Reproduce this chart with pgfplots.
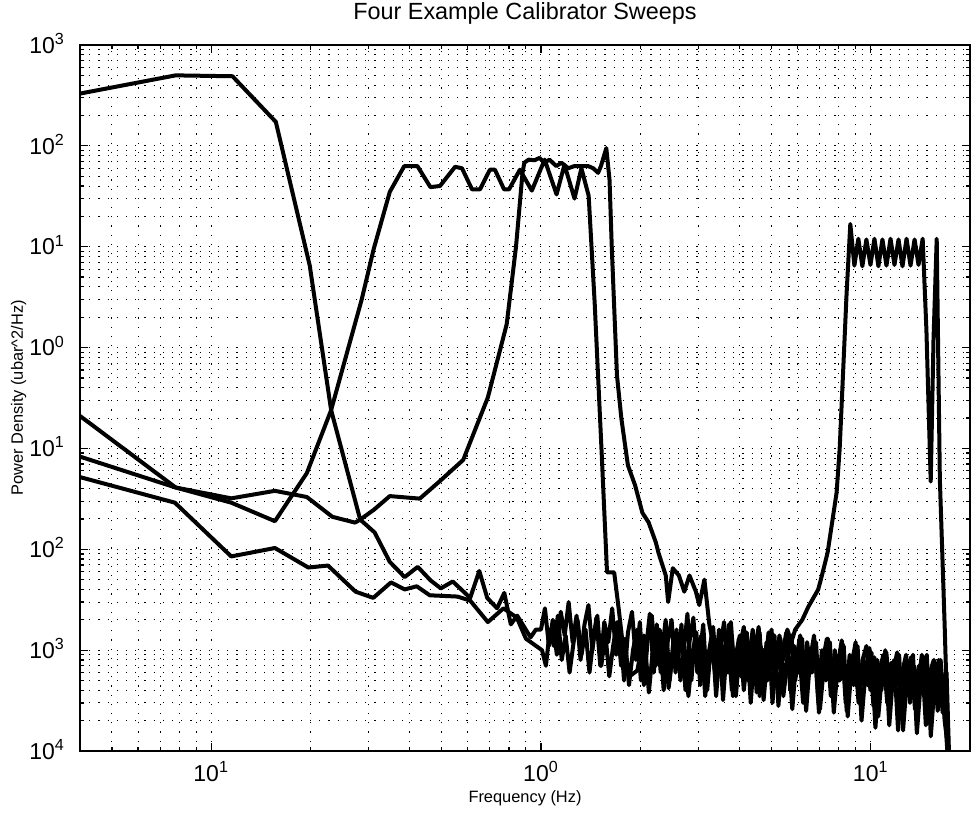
\documentclass[border=0pt]{standalone}
\usepackage{fontspec}
\setmainfont{Liberation Sans}
\usepackage{pgfplots}
\pgfplotsset{compat=1.18}

\begin{document}
\begin{tikzpicture}
\begin{axis}[
  scale only axis,
  width=445pt, height=353pt,
  xmode=log, ymode=log,
  xmin=0.04, xmax=20,
  ymin=1e-4, ymax=1e3,
  xtick={0.1,1,10},
  xticklabels={10\textsuperscript{1},10\textsuperscript{0},10\textsuperscript{1}},
  minor xtick={0.05,0.06,0.07,0.08,0.09,0.2,0.3,0.4,0.5,0.6,0.7,0.8,0.9,2,3,4,5,6,7,8,9},
  ytick={1e-4,1e-3,1e-2,1e-1,1,10,100,1000},
  yticklabels={10\textsuperscript{4},10\textsuperscript{3},10\textsuperscript{2},10\textsuperscript{1},
               10\textsuperscript{0},10\textsuperscript{1},10\textsuperscript{2},10\textsuperscript{3}},
  minor ytick={2e-4,3e-4,4e-4,5e-4,6e-4,7e-4,8e-4,9e-4,
               2e-3,3e-3,4e-3,5e-3,6e-3,7e-3,8e-3,9e-3,
               0.02,0.03,0.04,0.05,0.06,0.07,0.08,0.09,
               0.2,0.3,0.4,0.5,0.6,0.7,0.8,0.9,
               2,3,4,5,6,7,8,9,20,30,40,50,60,70,80,90,
               200,300,400,500,600,700,800,900},
  tick pos=both, tick align=inside,
  major tick length=4pt, minor tick length=2.2pt,
  every tick/.style={black, line width=0.6pt},
  axis line style={line width=0.8pt},
  grid=both,
  major grid style={black, line width=0.5pt, dash pattern=on 0.6pt off 4pt},
  minor grid style={black, line width=0.5pt, dash pattern=on 0.6pt off 4pt},
  tick label style={font=\fontsize{11.5}{13}\selectfont},
  xticklabel style={anchor=base, yshift=-15pt},
  yticklabel style={anchor=base east, xshift=-4pt, yshift=-4.1pt},
  title={Four Example Calibrator Sweeps},
  title style={font=\fontsize{11.7}{14}\selectfont, at={(0.5,1)}, anchor=base, yshift=7pt},
  xlabel={Frequency (Hz)},
  xlabel style={font=\fontsize{8.2}{10}\selectfont, at={(0.5,0)}, anchor=base, yshift=-25.5pt},
  ylabel={Power Density (ubar\^{}2/Hz)},
  ylabel style={font=\fontsize{8.2}{10}\selectfont, at={(0,0.5)}, anchor=base, yshift=28.5pt},
  sweep/.style={black, line width=2pt, line join=round, mark=none},
]

% sweep 1: lowest band
\addplot[sweep] coordinates {
  (0.04,330) (0.078,500) (0.116,490) (0.157,173) (0.199,6.5) (0.231,0.24)
  (0.283,0.0197) (0.313,0.0147) (0.348,0.0075) (0.386,0.0053) (0.423,0.0067)
  (0.463,0.0049) (0.497,0.0041) (0.54,0.0048) (0.61,0.0033) (0.65,0.0061)
  (0.687,0.0033) (0.736,0.0026) (0.774,0.0037) (0.81,0.0018) (0.847,0.0022)
  (0.93,0.00134) (0.965,0.0016)
  (1.000,1.6e-3) (1.028,2.6e-3) (1.057,1.1e-3) (1.086,2.0e-3) (1.117,9e-4)
  (1.148,2.4e-3) (1.180,1.4e-3) (1.213,3.0e-3) (1.247,1.2e-3) (1.282,2.2e-3)
  (1.318,8e-4) (1.355,1.8e-3) (1.393,2.8e-3) (1.432,1.0e-3) (1.472,2.1e-3)
  (1.513,7e-4) (1.556,1.9e-3) (1.600,1.2e-3) (1.644,2.6e-3) (1.690,9e-4)
  (1.738,1.7e-3) (1.786,5e-4) (1.836,1.5e-3) (1.888,2.4e-3) (1.941,8e-4)
  (1.995,1.9e-3) (2.051,4.5e-4) (2.109,1.3e-3) (2.168,2.2e-3) (2.228,7e-4)
  (2.291,1.6e-3) (2.355,4e-4) (2.421,1.2e-3) (2.489,2.0e-3) (2.559,6e-4)
  (2.630,1.4e-3) (2.704,9e-4) (2.780,2.3e-3) (2.858,5e-4) (2.938,1.5e-3)
  (3.020,8e-4) (3.105,1.8e-3) (3.192,4e-4) (3.281,1.2e-3) (3.373,6e-4)
  (3.467,1.6e-3) (3.565,3.2e-4) (3.664,1.1e-3) (3.767,1.9e-3) (3.873,5e-4)
  (3.981,1.3e-3) (4.093,7e-4) (4.207,1.5e-3) (4.325,3e-4) (4.446,1.0e-3)
  (4.571,1.7e-3) (4.699,4.5e-4) (4.831,1.2e-3) (4.966,6e-4) (5.105,1.4e-3)
  (5.248,2.8e-4) (5.395,9e-4) (5.546,1.5e-3) (5.702,4e-4) (5.861,1.1e-3)
  (6.026,6e-4) (6.194,1.3e-3) (6.368,2.5e-4) (6.546,8e-4) (6.730,1.4e-3)
  (6.918,3.5e-4) (7.112,1.0e-3) (7.311,5e-4) (7.516,1.2e-3) (7.727,2.4e-4)
  (7.943,7e-4) (8.166,1.25e-3) (8.395,3e-4) (8.630,9e-4) (8.872,4.5e-4)
  (9.120,1.1e-3) (9.376,2e-4) (9.638,6e-4) (9.908,1.05e-3) (10.19,2.8e-4)
  (10.47,8e-4) (10.77,4e-4) (11.07,1.0e-3) (11.38,1.8e-4) (11.70,6e-4)
  (12.02,9.5e-4) (12.36,2.5e-4) (12.71,7e-4) (13.06,3.5e-4) (13.43,9e-4)
  (13.80,1.5e-4) (14.19,5e-4) (14.59,8.5e-4) (15.00,2.2e-4) (15.42,6e-4)
  (15.85,3e-4) (16.29,8e-4) (16.75,2e-4) (17.1,1.2e-4) (17.4,5e-5)
};

% sweep 2: band 0.4 - 1.4 Hz
\addplot[sweep] coordinates {
  (0.04,0.21) (0.078,0.041) (0.115,0.029) (0.156,0.019) (0.195,0.057)
  (0.231,0.24) (0.286,3.0) (0.311,9.5) (0.348,35) (0.385,63) (0.422,63)
  (0.462,39) (0.494,40) (0.549,62) (0.576,60) (0.618,37) (0.653,37)
  (0.70,58) (0.725,58) (0.773,37) (0.80,37) (0.863,58) (0.938,36)
  (1.026,73) (1.115,33) (1.178,65) (1.264,30) (1.326,60) (1.395,32)
  (1.455,2.75) (1.528,0.089) (1.586,0.0059) (1.667,0.0059) (1.72,0.0026)
  (1.79,8.3e-4) (1.87,5.6e-4) (1.96,6.3e-4) (2.05,1.4e-3)
  (2.080,1.0e-3) (2.138,2.3e-3) (2.198,6e-4) (2.259,1.5e-3) (2.323,9e-4)
  (2.388,2.0e-3) (2.455,5e-4) (2.524,1.3e-3) (2.595,7e-4) (2.667,1.8e-3)
  (2.742,4e-4) (2.819,1.2e-3) (2.898,2.1e-3) (2.979,6e-4) (3.062,1.4e-3)
  (3.148,3.5e-4) (3.237,1.0e-3) (3.327,1.7e-3) (3.420,5e-4) (3.516,1.2e-3)
  (3.615,8e-4) (3.715,1.8e-3) (3.820,3.5e-4) (3.927,1.0e-3) (4.037,5.5e-4)
  (4.150,1.4e-3) (4.266,8e-4) (4.386,1.6e-3) (4.508,3.8e-4) (4.635,1.1e-3)
  (4.765,6e-4) (4.899,1.5e-3) (5.035,3e-4) (5.176,9e-4) (5.321,1.3e-3)
  (5.471,4.5e-4) (5.624,1.0e-3) (5.782,2.6e-4) (5.943,8e-4) (6.110,1.4e-3)
  (6.281,4e-4) (6.457,1.0e-3) (6.638,6e-4) (6.824,1.2e-3) (7.015,2.6e-4)
  (7.212,7e-4) (7.413,1.3e-3) (7.621,4e-4) (7.835,9e-4) (8.054,5e-4)
  (8.280,1.1e-3) (8.513,2.2e-4) (8.751,7e-4) (8.996,1.2e-3) (9.248,3.5e-4)
  (9.507,8e-4) (9.773,4.5e-4) (10.05,9.5e-4) (10.33,1.7e-4) (10.62,6e-4)
  (10.92,9e-4) (11.22,3e-4) (11.54,7.5e-4) (11.86,4e-4) (12.19,9e-4)
  (12.53,1.6e-4) (12.89,5.5e-4) (13.24,8.5e-4) (13.62,2.6e-4) (13.99,7e-4)
  (14.39,4e-4) (14.79,9e-4) (15.21,1.4e-4) (15.64,5e-4) (16.07,8e-4)
  (16.52,2.4e-4) (16.98,6e-4) (17.2,1.5e-4) (17.4,4e-5)
};

% sweep 3: band 0.9 - 1.6 Hz
\addplot[sweep] coordinates {
  (0.04,0.083) (0.078,0.041) (0.115,0.032) (0.156,0.038) (0.195,0.033)
  (0.233,0.021) (0.273,0.0184) (0.283,0.0197) (0.312,0.0248) (0.348,0.0337)
  (0.429,0.0318) (0.492,0.047) (0.581,0.077) (0.69,0.32) (0.787,1.7)
  (0.84,10) (0.879,54) (0.89,68) (0.917,73) (0.956,72) (0.99,76) (1.024,68)
  (1.061,73) (1.113,63) (1.153,68) (1.21,60) (1.262,63) (1.325,63)
  (1.39,63) (1.44,60) (1.49,54) (1.52,63) (1.578,95) (1.614,46) (1.64,9.5)
  (1.70,0.53) (1.753,0.198) (1.835,0.068) (1.93,0.043) (2.03,0.023)
  (2.12,0.0185) (2.23,0.0117) (2.27,0.0093) (2.39,0.0055) (2.43,0.003)
  (2.51,0.0065) (2.62,0.0055) (2.72,0.0038) (2.82,0.0055) (2.95,0.0038)
  (3.02,0.0028) (3.13,0.005) (3.24,0.0018)
  (3.304,1.3e-3) (3.397,4.5e-4) (3.491,1.0e-3) (3.590,1.9e-3) (3.690,6e-4)
  (3.793,1.3e-3) (3.900,3.5e-4) (4.009,1.1e-3) (4.122,1.7e-3) (4.236,5e-4)
  (4.355,1.2e-3) (4.477,7e-4) (4.603,1.5e-3) (4.732,3.2e-4) (4.865,9e-4)
  (5.001,1.6e-3) (5.141,5e-4) (5.285,1.1e-3) (5.433,3.5e-4) (5.585,8e-4)
  (5.742,1.4e-3) (5.902,5e-4) (6.068,1.0e-3) (6.237,3e-4) (6.413,1.2e-3)
  (6.592,6e-4) (6.777,1.0e-3) (6.966,2.4e-4) (7.162,8e-4) (7.362,1.3e-3)
  (7.569,3.5e-4) (7.781,1.0e-3) (7.999,5e-4) (8.223,1.15e-3) (8.454,2.5e-4)
  (8.690,7e-4) (8.934,1.0e-3) (9.184,3e-4) (9.442,8e-4) (9.705,1.1e-3)
  (9.977,4e-4) (10.26,8.5e-4) (10.54,2.2e-4) (10.85,6.5e-4) (11.15,9.5e-4)
  (11.46,3.5e-4) (11.78,8e-4) (12.10,1.6e-4) (12.45,6e-4) (12.80,9e-4)
  (13.15,3e-4) (13.52,7e-4) (13.90,4.5e-4) (14.29,9e-4) (14.69,1.8e-4)
  (15.11,6e-4) (15.53,8e-4) (15.96,2.5e-4) (16.40,6e-4) (16.87,1.8e-4)
  (17.25,6e-5)
};

% sweep 4: band 8.7 - 15.9 Hz
\addplot[sweep] coordinates {
  (0.04,0.052) (0.0776,0.029) (0.115,0.0085) (0.156,0.0103) (0.197,0.0066)
  (0.226,0.0069) (0.274,0.0038) (0.31,0.0033) (0.351,0.0047) (0.386,0.004)
  (0.42,0.0043) (0.46,0.0035) (0.558,0.0034) (0.61,0.0031) (0.69,0.0019)
  (0.77,0.0026) (0.845,0.0021) (0.9,0.0013)
  (1.007,1.0e-3) (1.035,7e-4) (1.064,1.6e-3) (1.094,1.1e-3) (1.125,2.2e-3)
  (1.156,8e-4) (1.188,1.4e-3) (1.221,6e-4) (1.256,1.2e-3) (1.291,2.0e-3)
  (1.327,9e-4) (1.365,1.6e-3) (1.403,6e-4) (1.442,1.3e-3) (1.482,2.2e-3)
  (1.524,7e-4) (1.567,1.5e-3) (1.611,5.5e-4) (1.655,1.1e-3) (1.702,1.9e-3)
  (1.750,7e-4) (1.799,1.3e-3) (1.849,4.5e-4) (1.901,1.0e-3) (1.955,1.6e-3)
  (2.009,5e-4) (2.065,1.2e-3) (2.124,3.8e-4) (2.183,1.0e-3) (2.244,1.8e-3)
  (2.307,6e-4) (2.371,1.3e-3) (2.438,4.2e-4) (2.506,9e-4) (2.577,1.6e-3)
  (2.648,5e-4) (2.723,1.1e-3) (2.799,3.5e-4) (2.878,9e-4) (2.959,1.5e-3)
  (3.041,4.5e-4) (3.127,1.0e-3) (3.214,6e-4) (3.304,1.5e-3) (3.397,3.5e-4)
  (3.491,1.1e-3) (3.590,6e-4) (3.690,1.3e-3) (3.793,4e-4) (3.900,9e-4)
  (4.009,1.4e-3) (4.122,4e-4) (4.236,1.0e-3) (4.355,6e-4) (4.477,1.3e-3)
  (4.603,3.5e-4) (4.732,1.0e-3) (4.865,5e-4) (5.001,1.2e-3) (5.141,6e-4)
  (5.285,1.4e-3) (5.433,8e-4) (5.585,1.6e-3) (5.742,1.2e-3)
  (5.9,1.6e-3) (6.2,2.0e-3) (6.47,2.7e-3) (6.93,4.0e-3) (7.1,5.4e-3)
  (7.4,9.3e-3) (7.88,0.0365) (8.05,0.1) (8.25,0.6) (8.45,3.5) (8.67,16.8)
  (8.92,6.5) (9.17,12) (9.43,6.4) (9.70,11.8) (9.98,6.6) (10.26,12)
  (10.55,6.4) (10.85,11.8) (11.16,6.5) (11.48,12) (11.80,6.6) (12.14,11.8)
  (12.48,6.4) (12.84,12) (13.20,6.5) (13.58,11.8) (13.96,6.6) (14.37,12)
  (14.75,1.5) (15.2,0.047) (15.5,1.2) (15.85,12) (16.2,0.05) (16.75,0.0018)
  (17.3,5e-5)
};
\end{axis}
\pgfresetboundingbox
\path ([shift={(-40pt,-35pt)}]current axis.south west)
  rectangle ([shift={(2.5pt,22.5pt)}]current axis.north east);
\end{tikzpicture}
\end{document}
